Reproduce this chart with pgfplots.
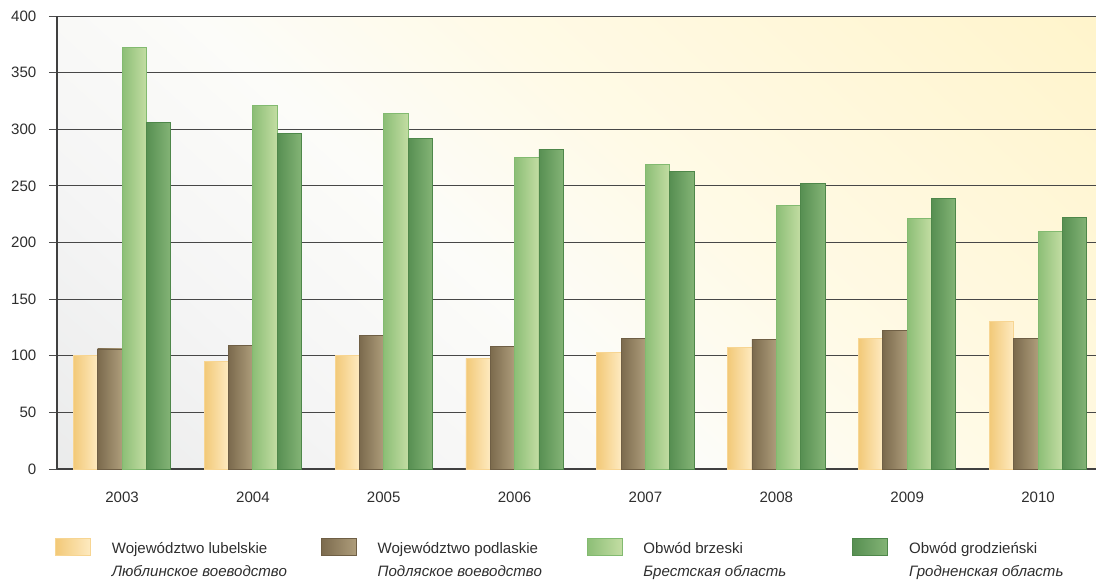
\documentclass[border=0pt]{standalone}
\usepackage{pgfplots}
\pgfplotsset{compat=1.18}
\usepackage{fontspec}
\setmainfont{Liberation Sans}
\definecolor{lubL}{HTML}{F2C978}
\definecolor{lubR}{HTML}{FEEAC0}
\definecolor{lubD}{HTML}{F7D592}
\definecolor{podL}{HTML}{7B6A4D}
\definecolor{podR}{HTML}{AE9D7B}
\definecolor{podD}{HTML}{6F5F45}
\definecolor{brzL}{HTML}{8CBE76}
\definecolor{brzR}{HTML}{C3DDA3}
\definecolor{brzD}{HTML}{82BA70}
\definecolor{groL}{HTML}{578F52}
\definecolor{groR}{HTML}{84B476}
\definecolor{groD}{HTML}{4E874A}
\definecolor{bg0}{HTML}{E4E5E5}
\definecolor{bg1}{HTML}{F5F5F5}
\definecolor{bg2}{HTML}{FCFCF9}
\definecolor{bg3}{HTML}{FFFAE6}
\definecolor{bg4}{HTML}{FFF2C2}
\definecolor{txt}{HTML}{2E2E2E}
\pgfdeclarehorizontalshading{bgshade}{100bp}{color(0bp)=(bg0); color(5bp)=(bg0); color(30bp)=(bg1); color(44bp)=(bg2); color(58bp)=(bg3); color(95bp)=(bg4); color(100bp)=(bg4)}
\newcommand{\legtext}[2]{\hspace{15.75pt}\makebox[156.75pt][l]{\fontsize{11.3}{17.25}\selectfont\def\arraystretch{1}\begin{tabular}[t]{@{}l@{}}#1\\\textit{#2}\end{tabular}}}
\newcommand{\series}[9]{%
  \addplot[#1,forget plot] coordinates {(0,#2)};
  \addplot[#1,forget plot] coordinates {(1,#3)};
  \addplot[#1,forget plot] coordinates {(2,#4)};
  \addplot[#1,forget plot] coordinates {(3,#5)};
  \addplot[#1,forget plot] coordinates {(4,#6)};
  \addplot[#1,forget plot] coordinates {(5,#7)};
  \addplot[#1,forget plot] coordinates {(6,#8)};
  \addplot[#1,forget plot] coordinates {(7,#9)};
}
\pgfplotsset{
  lubS/.style={ybar, bar width=0.186, bar shift=-0.279, draw=lubD, line width=0.6pt, left color=lubL, right color=lubR},
  podS/.style={ybar, bar width=0.186, bar shift=-0.093, draw=podD, line width=0.6pt, left color=podL, right color=podR},
  brzS/.style={ybar, bar width=0.186, bar shift=0.093, draw=brzD, line width=0.6pt, left color=brzL, right color=brzR},
  groS/.style={ybar, bar width=0.186, bar shift=0.279, draw=groD, line width=0.6pt, left color=groL, right color=groR},
}
\begin{document}
\begin{tikzpicture}
\useasboundingbox (0,0) rectangle (822pt,434.25pt);
\begin{axis}[
  at={(42.75pt,82.5pt)}, anchor=south west,
  scale only axis, width=779.25pt, height=339.75pt,
  xmin=-0.497, xmax=7.443, ymin=0, ymax=400,
  axis lines=left,
  axis line style={-, draw=black!75, line width=1.2pt},
  axis background/.style={shade, shading=bgshade, shading angle=48},
  xtick={0,...,7}, xticklabels={2003,2004,2005,2006,2007,2008,2009,2010},
  ytick={0,50,...,400},
  xtick style={draw=none},
  ytick style={draw=black!70, line width=0.75pt},
  tick align=outside, major tick length=6pt,
  ymajorgrids, major grid style={draw=black!72, line width=0.75pt},
  /pgf/number format/assume math mode=true,
  tick label style={font=\fontsize{11.3}{13}\selectfont, text=txt},
  yticklabel style={xshift=-6pt},
  xticklabel style={yshift=-8pt},
  legend columns=4,
  legend image code/.code={\draw[#1] (0pt,-1.5pt) rectangle (26.25pt,11.25pt);},
  legend style={at={(axis description cs:-0.0019,-0.150)}, anchor=north west, draw=none, fill=none,
    inner sep=0pt, outer sep=0pt, column sep=0pt, row sep=0pt, text=txt,
    nodes={inner sep=0pt}, cells={anchor=base west}},
]
% 2003 ... 2010
\series{lubS}{100}{95}{100}{98}{103}{107}{115}{130}
\series{podS}{106}{109}{118}{108}{115}{114}{122}{115}
\series{brzS}{372}{321}{314}{275}{269}{233}{221}{210}
\series{groS}{306}{296}{292}{282}{263}{252}{239}{222}
\addlegendimage{lubS}
\addlegendentry{\legtext{Województwo lubelskie}{Люблинское воеводство}}
\addlegendimage{podS}
\addlegendentry{\legtext{Województwo podlaskie}{Подляское воеводство}}
\addlegendimage{brzS}
\addlegendentry{\legtext{Obwód brzeski}{Брестская область}}
\addlegendimage{groS}
\addlegendentry{\legtext{Obwód grodzieński}{Гродненская область}}
\end{axis}
\end{tikzpicture}
\end{document}
